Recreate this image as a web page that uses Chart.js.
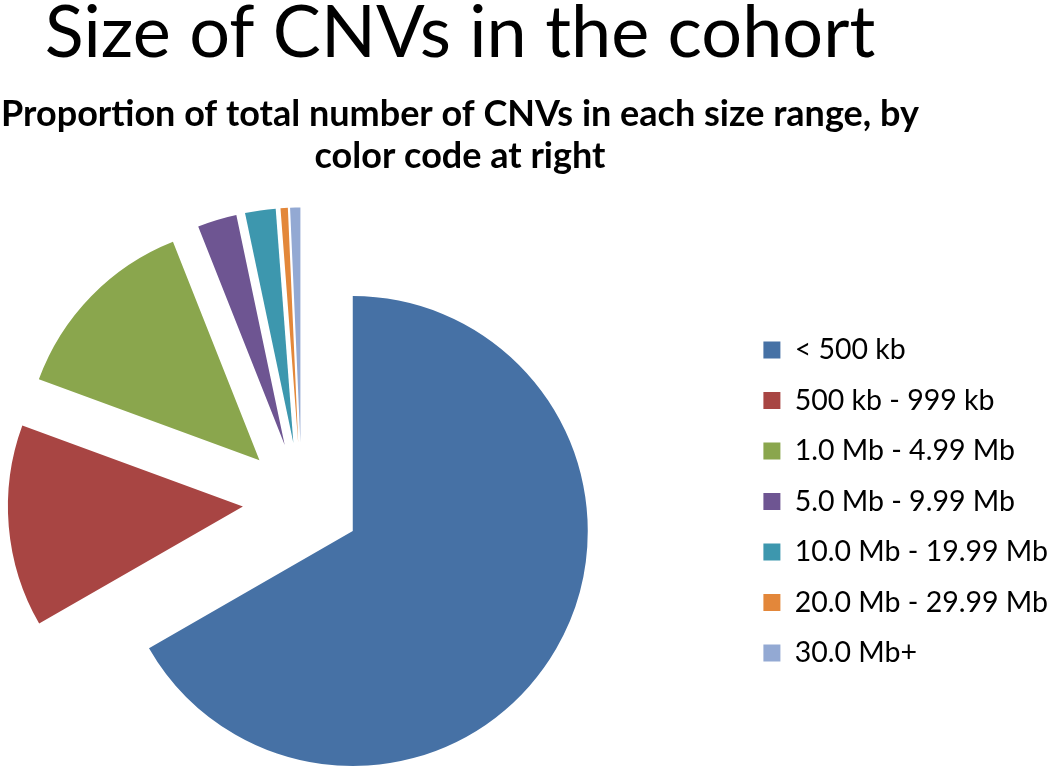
<!DOCTYPE html>
<html>
<head>
<meta charset="utf-8">
<title>Size of CNVs in the cohort</title>
<script src="https://cdn.jsdelivr.net/npm/chart.js@4.4.1/dist/chart.umd.min.js"></script>
<style>
  html, body { margin: 0; padding: 0; background: #fff; overflow: hidden; }
  body { position: relative; width: 1050px; height: 768px; }
  /* the canvas starts left of the page so the pie sits left of the titles' centre */
  #wrap { position: absolute; left: -138px; top: 0; width: 1196px; height: 768px; }
</style>
</head>
<body>
<div id="wrap"><canvas id="cnv-pie"></canvas></div>
<script>
// size ranges and their share (%) of all CNVs
const sizeRanges = ['< 500 kb', '500 kb - 999 kb', '1.0 Mb - 4.99 Mb', '5.0 Mb - 9.99 Mb',
  '10.0 Mb - 19.99 Mb', '20.0 Mb - 29.99 Mb', '30.0 Mb+'];
const sharePct = [66.7, 13.9, 13.4, 2.7, 2.1, 0.5, 0.7];
const sliceColors = ['#4671a5', '#a84543', '#8aa64d', '#6e5592', '#3d97ae', '#e3873a', '#93a9d3'];

const titleText = 'Size of CNVs in the cohort';
const subtitleLines = ['Proportion of total number of CNVs in each size range, by', 'color code at right'];

// Chart.js also enlarges and narrows an offset arc (a hover tweak keyed on the
// arc's circumference). Pin that factor to zero so slices are only pushed out.
const plainExplode = {
  id: 'plainExplode',
  beforeDatasetsDraw(chart) {
    chart.getDatasetMeta(0).data.forEach(arc => {
      arc.circumference = Math.PI / 2;
    });
  }
};

new Chart(document.getElementById('cnv-pie'), {
  type: 'pie',
  data: {
    labels: sizeRanges,
    datasets: [{
      data: sharePct,
      backgroundColor: sliceColors,
      borderWidth: 0,
      offset: 236,      // arcs move offset/4 = 59px along their bisector
      hoverOffset: 236,
      clip: false,
    }],
  },
  options: {
    responsive: true,
    maintainAspectRatio: false,
    animation: false,
    events: [],
    radius: 235,
    plugins: {
      title: {
        display: true,
        text: titleText,
        color: '#000',
        font: { family: 'Lato', size: 72, weight: 'normal', lineHeight: 1 },
        padding: { top: -2, bottom: 23 },
      },
      subtitle: {
        display: true,
        text: subtitleLines,
        color: '#000',
        font: { family: 'Lato', size: 36, weight: 'bold', lineHeight: 1.1667 },
        padding: { top: 0, bottom: 58 },
      },
      legend: {
        position: 'right',
        fullSize: false,
        labels: {
          color: '#000',
          font: { family: 'Lato', size: 28.5 },
          boxWidth: 17,
          boxHeight: 17,
          padding: 22,
        },
      },
      tooltip: { enabled: false },
    },
  },
  plugins: [plainExplode],
});
</script>
</body>
</html>
